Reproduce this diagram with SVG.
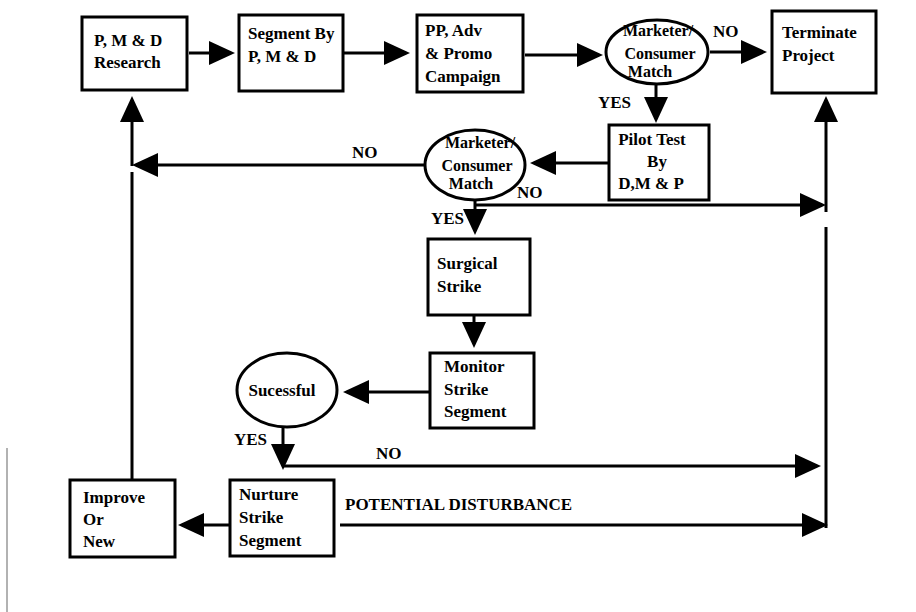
<svg xmlns="http://www.w3.org/2000/svg" width="916" height="612" viewBox="0 0 916 612">
<defs>
<marker id="ah" markerUnits="userSpaceOnUse" markerWidth="27" markerHeight="24" refX="22" refY="12" orient="auto">
<path d="M0,0 L26,12 L0,24 z" fill="#000"/>
</marker>
<style>
.box{fill:#fff;stroke:#000;stroke-width:3}
.ell{fill:#fff;stroke:#000;stroke-width:3}
.t{font-family:"Liberation Serif","Times New Roman",serif;font-weight:bold;font-size:17px;fill:#000}
.e{font-size:16px}
.c{text-anchor:middle}
.cn path{fill:none;stroke:#000;stroke-width:3}
.cn .a{marker-end:url(#ah)}
</style>
</defs>
<rect width="916" height="612" fill="#fff"/>
<line x1="7" y1="448" x2="7" y2="612" stroke="#999" stroke-width="1.5"/>

<g id="connectors" class="cn">
<path class="a" d="M189,53 H231"/>
<path class="a" d="M344,53 H406"/>
<path class="a" d="M525,55 H599"/>
<path class="a" d="M710,52 H763"/>
<path class="a" d="M656,85 V119"/>
<path class="a" d="M608,163 H534"/>
<path class="a" d="M425,165 H136"/>
<path class="a" d="M132,166 V100"/>
<path d="M132,480 V172"/>
<path class="a" d="M475,199 V231"/>
<path class="a" d="M475,205 H822"/>
<path class="a" d="M826,212 V100"/>
<path d="M826,227 V528"/>
<path class="a" d="M474,316 V344"/>
<path class="a" d="M430,392 H347"/>
<path class="a" d="M283,428 V466"/>
<path class="a" d="M283,466 H817"/>
<path class="a" d="M230,525 H182"/>
<path class="a" d="M340,525 H824"/>
</g>

<g id="pmd-research">
<rect class="box" x="82" y="17" width="105" height="73"/>
<text class="t" x="94" y="46">P, M &amp; D</text>
<text class="t" x="94" y="68">Research</text>
</g>
<g id="segment">
<rect class="box" x="239" y="15" width="104" height="76"/>
<text class="t" x="248" y="39">Segment By</text>
<text class="t" x="248" y="62">P, M &amp; D</text>
</g>
<g id="campaign">
<rect class="box" x="417" y="15" width="106" height="77"/>
<text class="t" x="425" y="36">PP, Adv</text>
<text class="t" x="425" y="59">&amp; Promo</text>
<text class="t" x="425" y="82">Campaign</text>
</g>
<g id="match1">
<ellipse class="ell" cx="657" cy="52" rx="51" ry="32"/>
<text class="t e c" x="658" y="36">Marketer/</text>
<text class="t e c" x="660" y="59">Consumer</text>
<text class="t e c" x="650" y="77">Match</text>
</g>
<g id="terminate">
<rect class="box" x="772" y="11" width="104" height="82"/>
<text class="t" x="782" y="38">Terminate</text>
<text class="t" x="782" y="61">Project</text>
</g>
<g id="pilot">
<rect class="box" x="609" y="125" width="100" height="75"/>
<text class="t c" x="652" y="145">Pilot Test</text>
<text class="t c" x="657" y="167">By</text>
<text class="t c" x="651" y="189">D,M &amp; P</text>
</g>
<g id="match2">
<ellipse class="ell" cx="475" cy="165" rx="50" ry="35"/>
<text class="t e c" x="480" y="148">Marketer/</text>
<text class="t e c" x="477" y="171">Consumer</text>
<text class="t e c" x="471" y="189">Match</text>
</g>
<g id="surgical">
<rect class="box" x="428" y="239" width="102" height="76"/>
<text class="t" x="437" y="269">Surgical</text>
<text class="t" x="437" y="292">Strike</text>
</g>
<g id="monitor">
<rect class="box" x="430" y="353" width="104" height="75"/>
<text class="t" x="444" y="372">Monitor</text>
<text class="t" x="444" y="395">Strike</text>
<text class="t" x="444" y="417">Segment</text>
</g>
<g id="sucessful">
<ellipse class="ell" cx="287" cy="390" rx="50" ry="37"/>
<text class="t c" x="282" y="396">Sucessful</text>
</g>
<g id="nurture">
<rect class="box" x="230" y="480" width="104" height="76"/>
<text class="t" x="239" y="500">Nurture</text>
<text class="t" x="239" y="523">Strike</text>
<text class="t" x="239" y="546">Segment</text>
</g>
<g id="improve">
<rect class="box" x="70" y="480" width="105" height="77"/>
<text class="t" x="83" y="503">Improve</text>
<text class="t" x="83" y="525">Or</text>
<text class="t" x="83" y="547">New</text>
</g>

<g id="labels">
<text class="t" x="713" y="37">NO</text>
<text class="t" x="598" y="108">YES</text>
<text class="t" x="352" y="158">NO</text>
<text class="t" x="517" y="198">NO</text>
<text class="t" x="431" y="224">YES</text>
<text class="t" x="234" y="445">YES</text>
<text class="t" x="376" y="459">NO</text>
<text class="t" x="345" y="510">POTENTIAL DISTURBANCE</text>
</g>
</svg>
